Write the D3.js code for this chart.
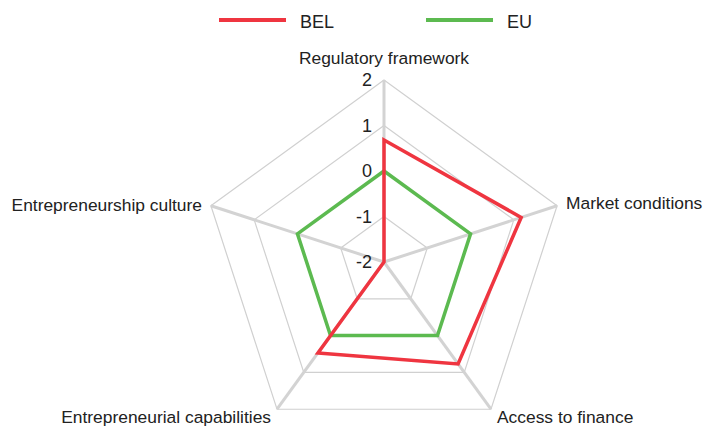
<!DOCTYPE html>
<html>
<head>
<meta charset="utf-8">
<script src="https://cdn.jsdelivr.net/npm/d3@7"></script>
<style>
  body { margin: 0; background: white; }
  text { font-family: "Liberation Sans", Arial, sans-serif; fill: #222; }
</style>
</head>
<body>
<div id="vis"></div>
<script>
// radar data
let axes = ['Regulatory framework', 'Market conditions', 'Access to finance', 'Entrepreneurial capabilities', 'Entrepreneurship culture'];
let belValues = [0.68, 1.17, 0.77, 0.47, -2];
let euValues = [0, 0, 0, 0, 0];
let ticks = [-2, -1, 0, 1, 2];

let series = [
  { name: 'BEL', values: belValues, color: '#ef3540' },
  { name: 'EU', values: euValues, color: '#5cba50' }
];

let width = 704, height = 427;
let cx = 384, cy = 262, radius = 182;

let svg = d3.select('#vis')
  .append('svg')
  .attr('width', width)
  .attr('height', height);

let r = d3.scaleLinear().domain([-2, 2]).range([0, radius]);
let angle = d3.scalePoint().domain(axes).range([0, 2 * Math.PI * (axes.length - 1) / axes.length]);

function pt(axis, v) {
  let a = angle(axis) - Math.PI / 2;
  return [cx + r(v) * Math.cos(a), cy + r(v) * Math.sin(a)];
}

// rings
ticks.slice(1).forEach(function(t) {
  svg.append('polygon')
    .attr('points', axes.map(a => pt(a, t).join(',')).join(' '))
    .attr('fill', 'none')
    .attr('stroke', '#d0d0d0')
    .attr('stroke-width', 1.2);
});

// spokes
svg.selectAll('.spoke')
  .data(axes)
  .enter().append('line')
  .attr('x1', cx).attr('y1', cy)
  .attr('x2', d => pt(d, 2)[0])
  .attr('y2', d => pt(d, 2)[1])
  .attr('stroke', '#d3d3d3')
  .attr('stroke-width', 3);

// series
let line = d3.line().curve(d3.curveLinearClosed);
series.slice().reverse().forEach(function(s) {
  svg.append('path')
    .attr('d', line(axes.map((a, i) => pt(a, s.values[i]))))
    .attr('fill', 'none')
    .attr('stroke', s.color)
    .attr('stroke-width', 3.5)
    .attr('stroke-linejoin', 'miter');
});

// tick labels
svg.selectAll('.tick')
  .data(ticks)
  .enter().append('text')
  .attr('x', cx - 12)
  .attr('y', d => cy - r(d))
  .attr('dy', '0.36em')
  .attr('text-anchor', 'end')
  .style('font-size', '18px')
  .text(d => d);

// axis labels
let labelPos = [
  { x: 384, y: 64, anchor: 'middle' },
  { x: 566, y: 209, anchor: 'start' },
  { x: 497, y: 423, anchor: 'start' },
  { x: 271, y: 423, anchor: 'end' },
  { x: 202, y: 211, anchor: 'end' }
];
axes.forEach(function(a, i) {
  svg.append('text')
    .attr('x', labelPos[i].x)
    .attr('y', labelPos[i].y)
    .attr('text-anchor', labelPos[i].anchor)
    .style('font-size', '17.4px')
    .text(a);
});

// legend
let legendX = [219, 426];
series.forEach(function(s, i) {
  svg.append('line')
    .attr('x1', legendX[i]).attr('x2', legendX[i] + 67)
    .attr('y1', 20).attr('y2', 20)
    .attr('stroke', s.color)
    .attr('stroke-width', 4);
  svg.append('text')
    .attr('x', legendX[i] + 81)
    .attr('y', 28)
    .style('font-size', '18px')
    .text(s.name);
});
</script>
</body>
</html>
